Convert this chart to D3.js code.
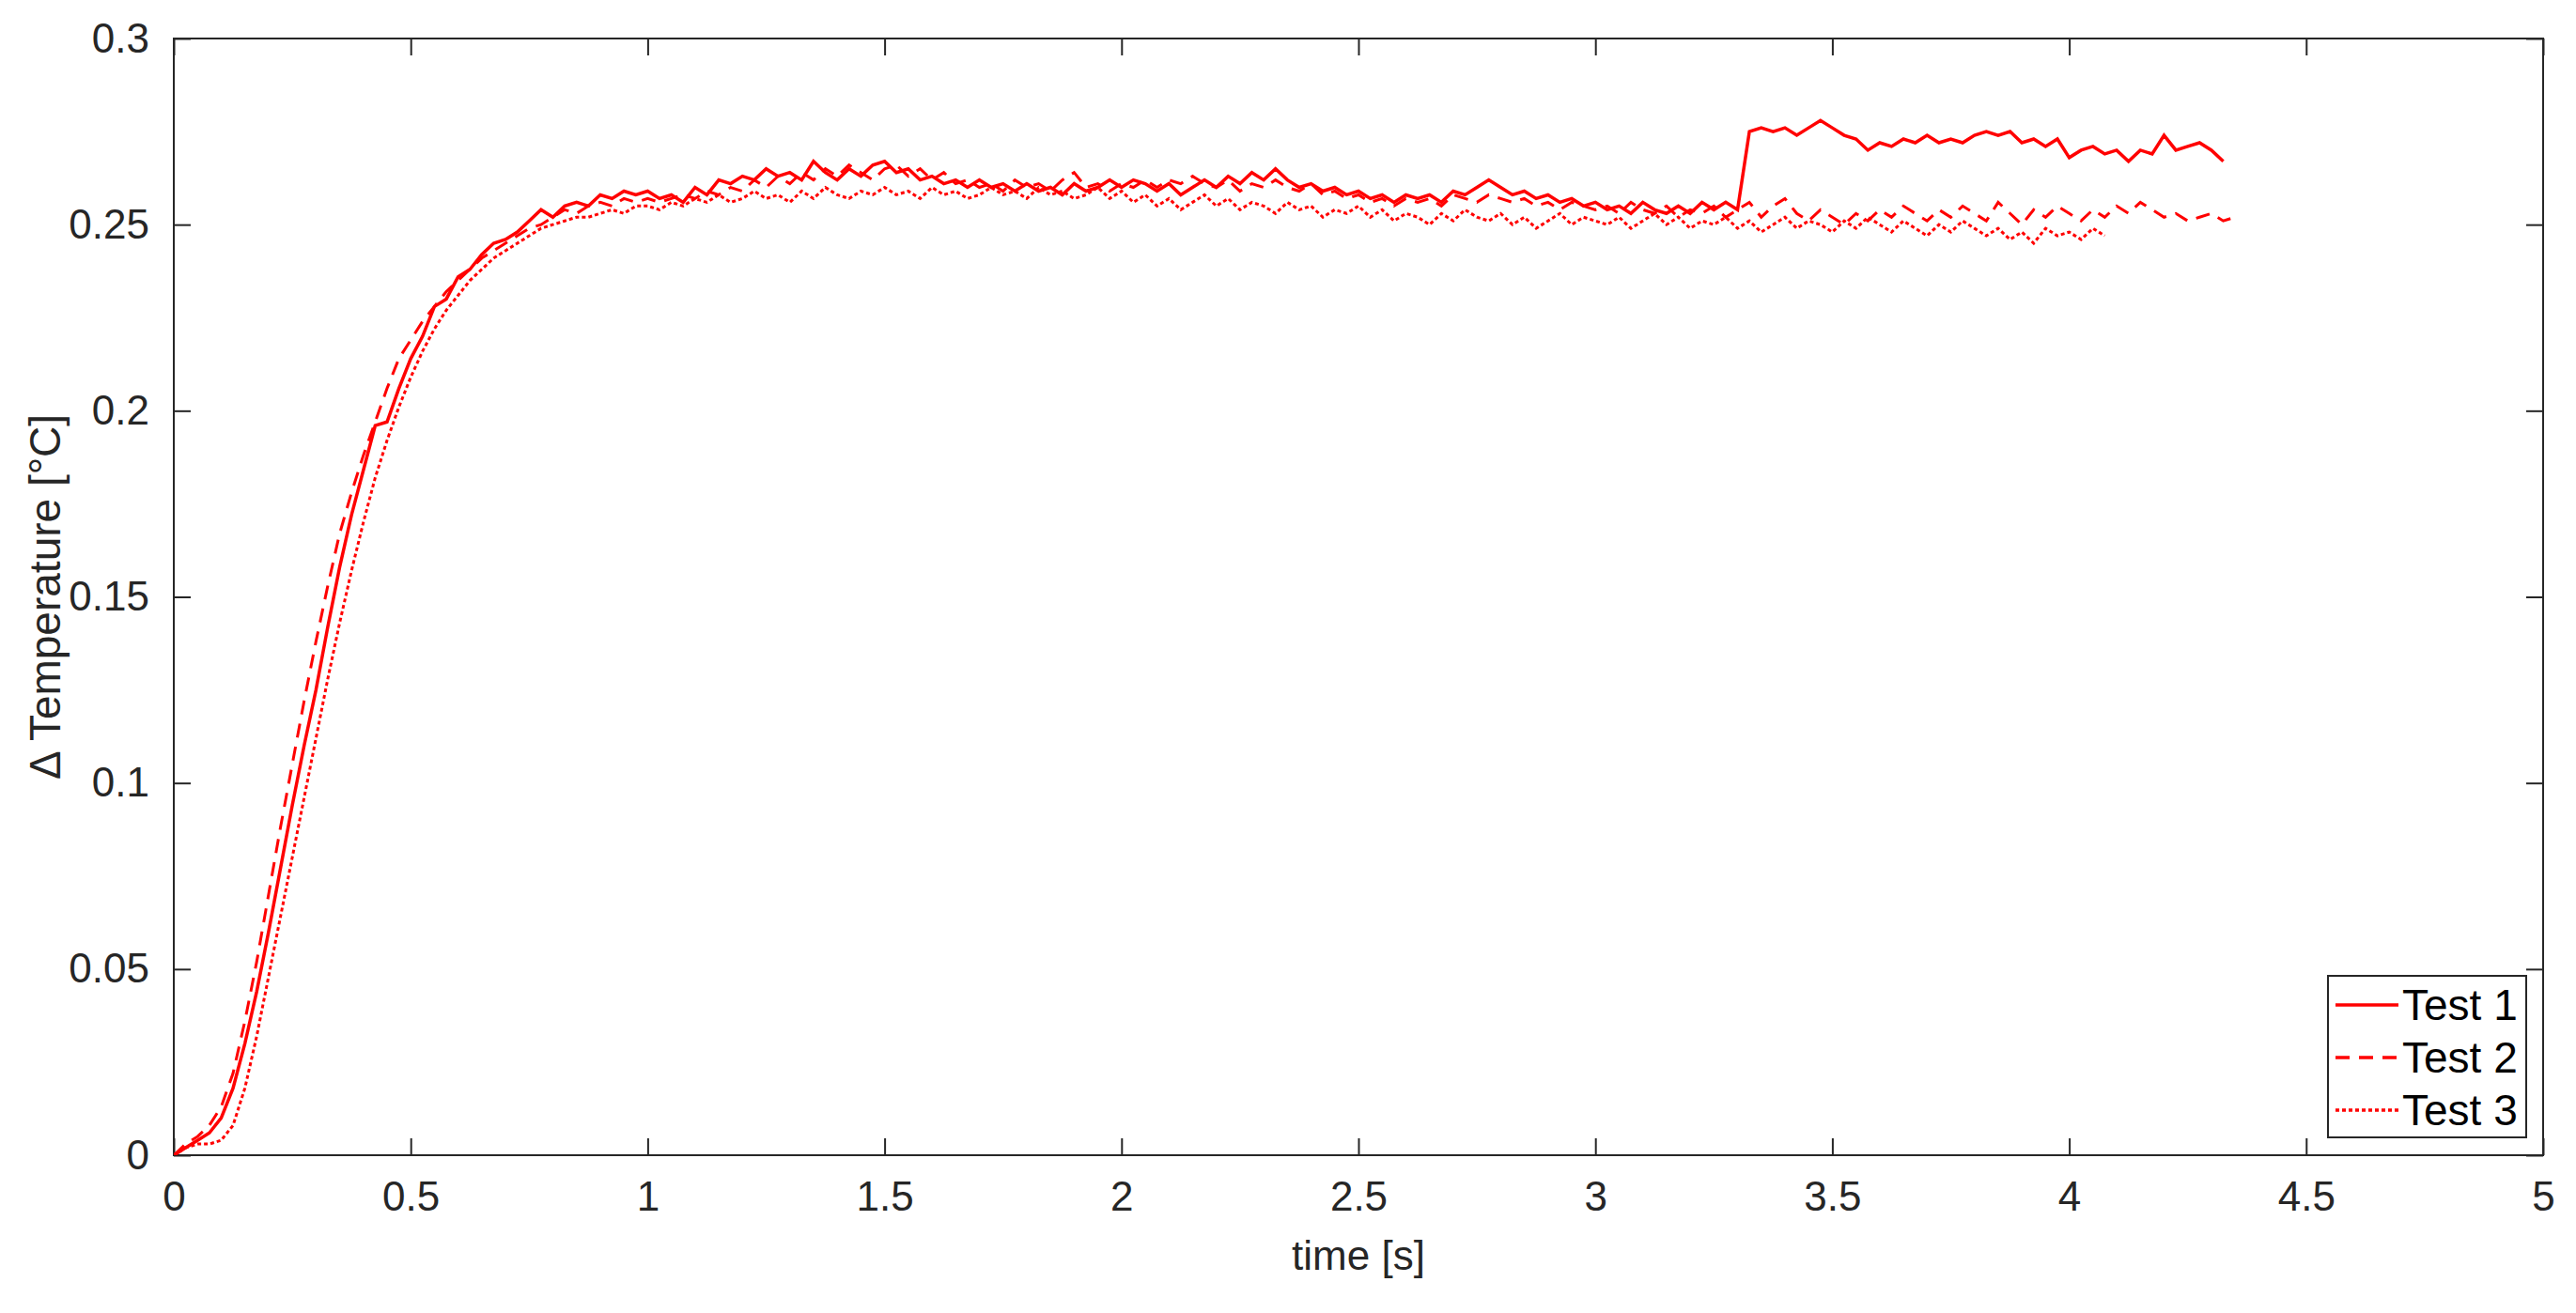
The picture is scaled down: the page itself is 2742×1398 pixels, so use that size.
<!DOCTYPE html>
<html><head><meta charset="utf-8">
<script src="https://cdn.jsdelivr.net/npm/d3@7"></script>
<style>body{margin:0;background:#fff}svg{display:block;font-family:"Liberation Sans",Arial,sans-serif}</style>
</head><body><svg id="c" width="2742" height="1398"></svg>
<script>
const dt = 0.025;
const test1 = [0,.002,.004,.006,.010,.018,.030,.044,.060,.077,.094,.110,.125,.142,.158,.172,.184,.196,.197,.206,.214,.220,.228,.230,.236,.238,.242,.245,.246,.248,.251,.254,.252,.255,.256,.255,.258,.257,.259,.258,.259,
.257,.258,.256,.260,.258,.262,.261,.263,.262,.265,.263,.264,.262,.267,.264,.262,.265,.263,.266,.267,.264,.265,.262,.263,.261,.262,.260,.262,.260,.261,.259,.261,.259,.260,.258,.261,.259,.260,.262,.260,
.262,.261,.259,.261,.258,.260,.262,.260,.263,.261,.264,.262,.265,.262,.260,.261,.259,.260,.258,.259,.257,.258,.256,.258,.257,.258,.256,.259,.258,.260,.262,.260,.258,.259,.257,.258,.256,.257,.255,.256,
.254,.255,.253,.256,.254,.253,.255,.253,.256,.254,.256,.254,.275,.276,.275,.276,.274,.276,.278,.276,.274,.273,.270,.272,.271,.273,.272,.274,.272,.273,.272,.274,.275,.274,.275,.272,.273,.271,.273,.268,
.270,.271,.269,.270,.267,.270,.269,.274,.270,.271,.272,.270,.267];
const test2 = [0,.003,.005,.008,.013,.022,.036,.052,.070,.088,.105,.122,.138,.153,.167,.178,.188,.197,.206,.214,.219,.224,.228,.232,.235,.238,.241,.243,.245,.247,.249,.250,.252,.254,.253,.255,.256,.255,.257,.256,.257,
.256,.257,.258,.257,.259,.258,.260,.259,.262,.260,.263,.261,.264,.262,.265,.263,.266,.264,.262,.265,.266,.263,.265,.262,.264,.261,.262,.260,.261,.259,.262,.260,.261,.259,.262,.264,.260,.261,.259,.261,
.260,.262,.260,.262,.261,.263,.261,.260,.262,.259,.261,.260,.262,.260,.259,.261,.258,.259,.257,.258,.256,.257,.255,.257,.256,.257,.255,.258,.257,.256,.258,.257,.256,.257,.255,.256,.254,.256,.255,.254,
.255,.253,.256,.254,.253,.255,.252,.254,.253,.255,.252,.254,.256,.252,.255,.257,.253,.251,.254,.252,.250,.253,.251,.254,.252,.255,.253,.251,.254,.252,.255,.253,.251,.256,.253,.250,.254,.252,.255,.253,
.251,.254,.252,.255,.253,.256,.254,.252,.253,.251,.252,.253,.251,.252];
const test3 = [0,.002,.003,.003,.004,.008,.018,.032,.048,.064,.080,.096,.112,.128,.143,.157,.170,.182,.192,.201,.209,.216,.222,.227,.231,.235,.238,.241,.243,.245,.247,.249,.250,.251,.252,.252,.253,.254,.253,.255,.255,
.254,.256,.255,.257,.256,.258,.256,.257,.259,.257,.258,.256,.259,.257,.260,.258,.257,.259,.258,.260,.258,.259,.257,.260,.258,.259,.257,.258,.260,.258,.259,.257,.260,.258,.259,.257,.258,.260,.257,.259,
.256,.258,.255,.257,.254,.256,.258,.255,.257,.254,.256,.255,.253,.256,.254,.255,.252,.254,.253,.255,.252,.254,.251,.253,.252,.250,.253,.251,.254,.252,.251,.253,.250,.252,.249,.251,.253,.250,.252,.251,
.250,.252,.249,.251,.253,.250,.252,.249,.251,.250,.252,.249,.251,.248,.250,.252,.249,.251,.250,.248,.251,.249,.252,.250,.248,.251,.249,.247,.250,.248,.251,.249,.247,.249,.246,.248,.245,.249,.247,.248,
.246,.249,.247];
const xTicks = [0,0.5,1,1.5,2,2.5,3,3.5,4,4.5,5];
const yTicks = [0,0.05,0.1,0.15,0.2,0.25,0.3];
const names = ["Test 1","Test 2","Test 3"];
const dashes = [null,"15,10","4,3"];

const L=185,R=2707,T=41,B=1230;
const svg=d3.select("#c");
const x=d3.scaleLinear().domain([0,5]).range([L,R]);
const y=d3.scaleLinear().domain([0,0.3]).range([B,T]);
const ax="#262626", fs=44, tl=18;
const g=svg.append("g");
g.append("rect").attr("x",L).attr("y",T).attr("width",R-L).attr("height",B-T).attr("fill","none").attr("stroke",ax).attr("stroke-width",2);
const fmt=d=>String(d);
g.append("g").attr("transform",`translate(0,${B})`).call(d3.axisBottom(x).tickValues(xTicks).tickFormat(fmt).tickSizeInner(-tl).tickSizeOuter(0).tickPadding(28)).call(s=>{s.select(".domain").remove();s.selectAll("line").attr("stroke",ax).attr("stroke-width",2);s.selectAll("text").attr("font-size",fs).attr("fill",ax).attr("font-family","Liberation Sans,Arial")});
g.append("g").attr("transform",`translate(0,${T})`).call(d3.axisTop(x).tickValues(xTicks).tickFormat("").tickSizeInner(-tl).tickSizeOuter(0)).call(s=>{s.select(".domain").remove();s.selectAll("line").attr("stroke",ax).attr("stroke-width",2)});
g.append("g").attr("transform",`translate(${L},0)`).call(d3.axisLeft(y).tickValues(yTicks).tickFormat(fmt).tickSizeInner(-tl).tickSizeOuter(0).tickPadding(26)).call(s=>{s.select(".domain").remove();s.selectAll("line").attr("stroke",ax).attr("stroke-width",2);s.selectAll("text").attr("font-size",fs).attr("fill",ax).attr("font-family","Liberation Sans,Arial")});
g.append("g").attr("transform",`translate(${R},0)`).call(d3.axisRight(y).tickValues(yTicks).tickFormat("").tickSizeInner(-tl).tickSizeOuter(0)).call(s=>{s.select(".domain").remove();s.selectAll("line").attr("stroke",ax).attr("stroke-width",2)});
svg.append("text").attr("x",(L+R)/2).attr("y",1352).attr("text-anchor","middle").attr("font-size",fs).attr("fill",ax).text("time [s]");
svg.append("text").attr("transform",`translate(64,${(T+B)/2}) rotate(-90)`).attr("text-anchor","middle").attr("font-size",46).attr("fill",ax).text("Δ Temperature [°C]");

const line=d3.line().x((d,i)=>x(i*dt)).y(d=>y(d));
svg.append("clipPath").attr("id","cp").append("rect").attr("x",L).attr("y",T).attr("width",R-L).attr("height",B-T);
[test1,test2,test3].forEach((s,k)=>{
  svg.append("path").datum(s).attr("d",line).attr("fill","none").attr("stroke","#ff0000")
   .attr("stroke-width",k==0?3.5:3).attr("stroke-dasharray",dashes[k]).attr("clip-path","url(#cp)");
});
const lg=svg.append("g");
lg.append("rect").attr("x",2478).attr("y",1039).attr("width",211).attr("height",172).attr("fill","#fff").attr("stroke",ax).attr("stroke-width",2);
names.forEach((n,k)=>{
  const yy=1070+k*56;
  lg.append("line").attr("x1",2486).attr("x2",2553).attr("y1",yy).attr("y2",yy).attr("stroke","#ff0000").attr("stroke-width",3.5).attr("stroke-dasharray",dashes[k]);
  lg.append("text").attr("x",2557).attr("y",yy+16).attr("font-size",46).attr("fill","#000").text(n);
});
</script></body></html>
